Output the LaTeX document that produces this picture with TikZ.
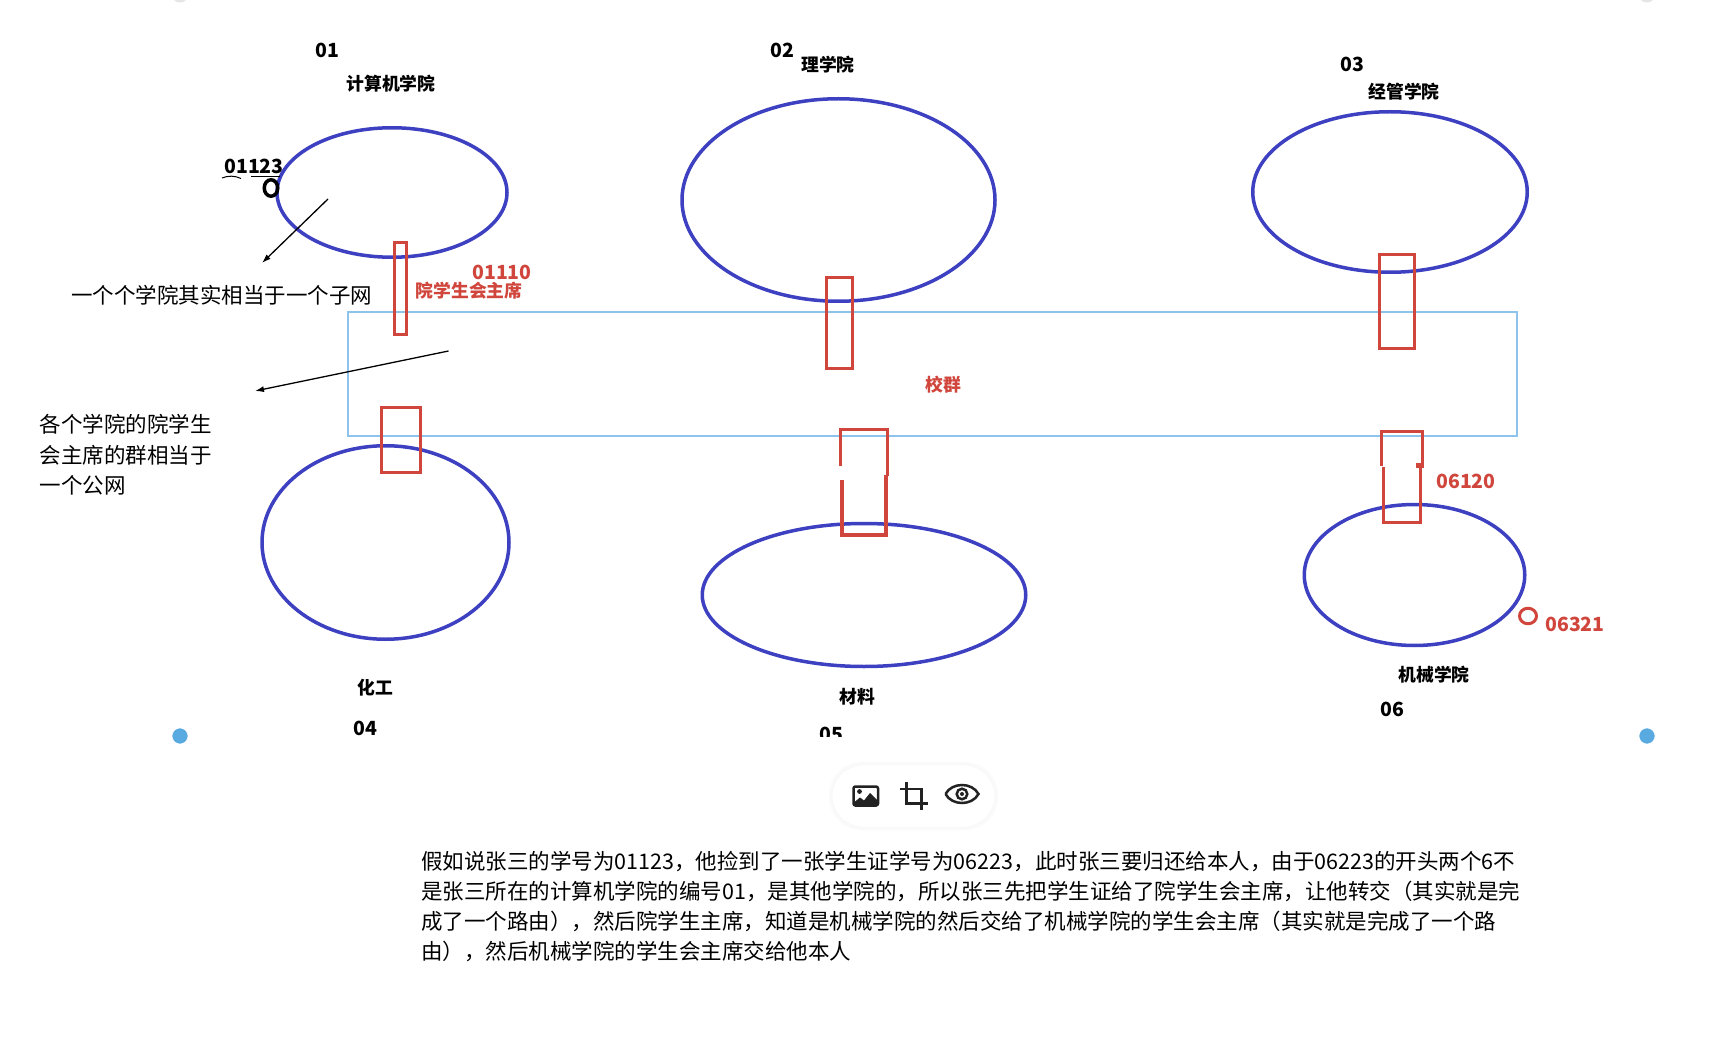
\documentclass[tikz,border=0pt]{standalone}
\usepackage{fontspec}
\newfontfamily\cjk{Noto Sans CJK SC}
\usetikzlibrary{shapes.geometric,arrows.meta}
\definecolor{ellblue}{RGB}{61,64,192}
\definecolor{netred}{RGB}{208,70,60}
\definecolor{lineblue}{RGB}{142,196,236}
\definecolor{dotblue}{RGB}{90,170,226}
\definecolor{iconc}{RGB}{34,34,34}
\begin{document}
\begin{tikzpicture}[x=1pt,y=-1pt,
  subnet/.style={ellipse,draw=ellblue,line width=3.5pt,inner sep=0pt},
  gate/.style={rectangle,draw=netred,line width=3pt,inner sep=0pt},
  lab/.style={font=\cjk\bfseries\fontsize{17.8}{20}\selectfont,inner sep=0pt},
  num/.style={font=\cjk\bfseries\fontsize{19.5}{22}\selectfont,inner sep=0pt},
  rlab/.style={lab,text=netred},
  rnum/.style={num,text=netred},
  hand/.style={font=\cjk\fontsize{21.5}{30}\selectfont,inner sep=0pt,anchor=base west},
  note/.style={-{Latex[length=9pt,width=6pt]},line width=1.3pt},
  icon/.style={draw=iconc,line width=2.5pt},
  handle/.style={circle,fill=dotblue,draw=white,line width=1.5pt,minimum size=17pt,inner sep=0pt}
]
\fill[white] (0,0) rectangle (1732,1056);
\useasboundingbox (0,0) rectangle (1732,1056);

% school group (public net)
\node[draw=lineblue,line width=1.2pt,minimum width=1169pt,minimum height=124pt,inner sep=0pt] (xq) at (932.5,374) {};
\node[rlab] (xqlab) at (943,385) {校群};

% college subnets
\node[subnet,minimum width=230pt,minimum height=129.5pt] (e1) at (392,192.5) {};
\node[subnet,minimum width=313pt,minimum height=202.5pt] (e2) at (838.5,200) {};
\node[subnet,minimum width=274.5pt,minimum height=160.5pt] (e3) at (1390,192) {};
\node[subnet,minimum width=247pt,minimum height=193.5pt] (e4) at (385.5,542.5) {};
\node[subnet,minimum width=323.5pt,minimum height=143pt] (e5) at (864,595) {};
\node[subnet,minimum width=220.5pt,minimum height=141pt] (e6) at (1414.5,575) {};

% gateways (student union chairs)
\node[gate,minimum width=12pt,minimum height=92pt] (g1) at (400.5,288.5) {};
\node[gate,minimum width=26pt,minimum height=91pt] (g2) at (839.5,323) {};
\node[gate,minimum width=35pt,minimum height=94pt] (g3) at (1397,301.5) {};
\node[gate,minimum width=38.5pt,minimum height=65.5pt] (g4) at (401,440) {};
% gateway 5 (drawn in two strokes)
\draw[netred,line width=2.5pt] (840.5,466) -- (840.5,429.5) -- (887.5,429.5) -- (887.5,476);
\draw[netred,line width=4.5pt] (842,480) -- (842,535) -- (886,535) -- (886,475);
% gateway 6 (drawn in two strokes)
\draw[netred,line width=3pt] (1381.5,466) -- (1381.5,431.5) -- (1422.5,431.5) -- (1422.5,466);
\draw[netred,line width=3pt] (1383.5,467) -- (1383.5,522.5) -- (1420.5,522.5) -- (1420.5,465);
\fill[netred] (1416,463) rectangle (1423.5,468);

% host 06321
\node[ellipse,draw=netred,line width=3pt,minimum width=17pt,minimum height=15.5pt,inner sep=0pt] (h2) at (1528,616) {};
\node[rnum] (n06321) at (1575,624) {06321};

% host 01123
\node[ellipse,draw=black,line width=3.5pt,minimum width=13.5pt,minimum height=16.5pt,inner sep=0pt] (h1) at (271,188) {};
\node[num] (n01123) at (254,166) {01123};
\draw[line width=1pt] (222,178) .. controls (228,175.5) and (235,175.5) .. (241,178.5);
\draw[line width=1pt] (251,176.5) -- (280,176.5);

% labels
\node[num] (c01) at (327,50) {01};
\node[lab] (l1) at (391,84) {计算机学院};
\node[num] (c02) at (782,50) {02};
\node[lab] (l2) at (828,65) {理学院};
\node[num] (c03) at (1352,64) {03};
\node[lab] (l3) at (1404,92) {经管学院};
\node[lab] (l4) at (375,688) {化工};
\node[num] (c04) at (365,728) {04};
\node[lab] (l5) at (857,697) {材料};
\begin{scope}
\clip (700,700) rectangle (960,736);
\node[num] (c05) at (831.5,734) {05};
\end{scope}
\node[lab] (l6) at (1434,675) {机械学院};
\node[num] (c06) at (1392,709) {06};

\node[rnum] (n01110) at (502,272) {01110};
\node[rlab] (chair) at (469,291) {院学生会主席};
\node[rnum] (n06120) at (1466,481) {06120};

% notes
\coordinate (a1s) at (328,199);
\coordinate (a1e) at (262,263);
\coordinate (a2s) at (448.5,351);
\coordinate (a2e) at (255,391);
\draw[note] (a1s) -- (a1e);
\draw[note] (a2s) -- (a2e);
\node[hand] (t1) at (71,304) {一个个学院其实相当于一个子网};
\node[hand] (t2a) at (39.5,432) {各个学院的院学生};
\node[hand] (t2b) at (39.5,463) {会主席的群相当于};
\node[hand] (t2c) at (39.5,493) {一个公网};

% image handles
\node[handle] (hb1) at (180,736) {};
\node[handle] (hb2) at (1647,736) {};
\node[circle,fill=black!10,minimum size=17pt,inner sep=0pt] (ht1) at (180,-6) {};
\node[circle,fill=black!10,minimum size=17pt,inner sep=0pt] (ht2) at (1647,-6) {};

% toolbar
\fill[black,opacity=0.02,rounded corners=33pt] (829,762) rectangle (998,830);
\node[draw={rgb,255:red,244;green,244;blue,244},fill=white,rounded corners=31pt,minimum width=163pt,minimum height=62pt,inner sep=0pt] (bar) at (913.5,796) {};
\draw[icon,rounded corners=2pt] (853.5,786.5) rectangle (878,805.5);
\fill[iconc] (854.5,805) -- (854.5,802) -- (860,797.5) -- (864,800.5) -- (870,793) -- (877,800) -- (877,805) -- cycle;
\fill[iconc] (859.5,791.5) circle (2.4pt);
\draw[icon] (906.7,781.5) -- (906.7,803.3) -- (927.5,803.3);
\draw[icon] (900,789) -- (921.7,789) -- (921.7,809.5);
\draw[icon] (945.5,794) .. controls (952,782) and (972,782) .. (978.5,794) .. controls (972,806) and (952,806) .. (945.5,794);
\draw[icon] (962,794) circle (5.3pt);
\fill[iconc] (962,794) circle (2pt);

% explanation paragraph
\node[hand] (p1) at (421,869.6) {假如说张三的学号为01123，他捡到了一张学生证学号为06223，此时张三要归还给本人，由于06223的开头两个6不};
\node[hand] (p2) at (421,899.4) {是张三所在的计算机学院的编号01，是其他学院的，所以张三先把学生证给了院学生会主席，让他转交（其实就是完};
\node[hand] (p3) at (421,929.3) {成了一个路由），然后院学生主席，知道是机械学院的然后交给了机械学院的学生会主席（其实就是完成了一个路};
\node[hand] (p4) at (421,959) {由），然后机械学院的学生会主席交给他本人};
\end{tikzpicture}
\end{document}
